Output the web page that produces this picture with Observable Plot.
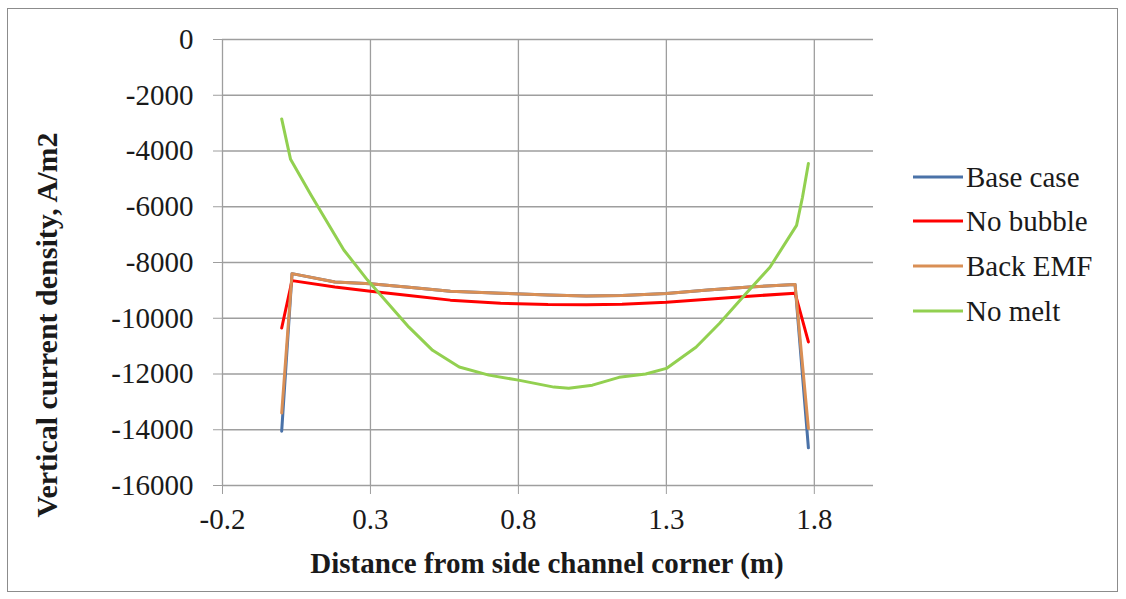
<!DOCTYPE html>
<html>
<head>
<meta charset="utf-8">
<script src="https://cdn.jsdelivr.net/npm/d3@7"></script>
<script src="https://cdn.jsdelivr.net/npm/@observablehq/plot@0.6"></script>
<style>
  body { margin: 0; background: #fff; }
  #wrap { position: relative; width: 1126px; height: 599px; }
  #wrap svg { position: absolute; left: 0; top: 0; }
  #wrap svg text { font-family: "Liberation Serif", "Times New Roman", serif; }
  #frame { position: absolute; left: 7px; top: 8px; width: 1111px; height: 584px;
           border: 1.5px solid #8c8c8c; box-sizing: border-box; pointer-events: none; }
</style>
</head>
<body>
<div id="wrap"></div>
<script>
// ---- data ----
const seriesNames = ["Base case", "No bubble", "Back EMF", "No melt"];
const seriesColors = ["#4a72a8", "#ff0000", "#d98f55", "#92d050"];

const xTicks = [-0.2, 0.3, 0.8, 1.3, 1.8];
const yTicks = [0, -2000, -4000, -6000, -8000, -10000, -12000, -14000, -16000];

const xCommon = [0.0, 0.035, 0.18, 0.3, 0.43, 0.57, 0.74, 0.9, 1.03, 1.15, 1.3, 1.44, 1.58, 1.735, 1.78];
const baseCase = [-14050, -8400, -8700, -8760, -8890, -9030, -9100, -9170, -9200, -9180, -9110, -8990, -8880, -8790, -14650];
const noBubble = [-10350, -8650, -8880, -9030, -9180, -9350, -9460, -9510, -9520, -9500, -9430, -9320, -9210, -9100, -10850];
const backEMF  = [-13400, -8400, -8700, -8760, -8890, -9030, -9100, -9170, -9200, -9180, -9110, -8990, -8880, -8790, -13950];

const xNoMelt = [0.0, 0.03, 0.1, 0.21, 0.29, 0.43, 0.51, 0.6, 0.7, 0.8, 0.92, 0.97, 1.05, 1.14, 1.23, 1.3, 1.4, 1.48, 1.57, 1.65, 1.74, 1.76, 1.78];
const noMelt  = [-2850, -4300, -5600, -7550, -8630, -10320, -11150, -11750, -12040, -12220, -12470, -12510, -12400, -12120, -12000, -11800, -11040, -10180, -9100, -8170, -6670, -5660, -4450];

// ---- table ----
const rows = [];
[[baseCase, xCommon], [noBubble, xCommon], [backEMF, xCommon], [noMelt, xNoMelt]].forEach(([ys, xs], i) => {
  ys.forEach((y, j) => rows.push({ series: seriesNames[i], x: xs[j], y }));
});

const gridColor = "#9e9e9e";
const textColor = "#1a1a1a";
const fontFam = "Liberation Serif, Times New Roman, serif";

const plot = Plot.plot({
  width: 1126,
  height: 599,
  marginLeft: 222,
  marginRight: 253,
  marginTop: 39,
  marginBottom: 114,
  style: { fontFamily: fontFam, fontSize: "29px", color: textColor, background: "transparent" },
  x: { domain: [-0.2, 2.0], label: null },
  y: { domain: [-16000, 0], label: null },
  color: { domain: seriesNames, range: seriesColors },
  marks: [
    Plot.gridX(xTicks, { stroke: gridColor, strokeOpacity: 1, strokeWidth: 1.3 }),
    Plot.gridY(yTicks, { stroke: gridColor, strokeOpacity: 1, strokeWidth: 1.3 }),
    Plot.axisY({ ticks: yTicks, tickSize: 9, tickPadding: 20, tickFormat: d => String(d), stroke: gridColor, fill: textColor, label: null }),
    Plot.axisX({ ticks: xTicks, tickSize: 9, tickPadding: 14, tickFormat: d => d.toFixed(1), stroke: gridColor, fill: textColor, label: null }),
    Plot.line(rows, { x: "x", y: "y", z: "series", stroke: "series", strokeWidth: 3, strokeLinejoin: "round" })
  ]
});

const wrap = document.getElementById("wrap");
wrap.appendChild(plot);
const frame = document.createElement("div");
frame.id = "frame";
wrap.appendChild(frame);

const svg = d3.select(plot);

// axis titles
svg.append("text")
  .attr("x", 547).attr("y", 563)
  .attr("text-anchor", "middle").attr("dominant-baseline", "central")
  .attr("font-size", 29).attr("font-weight", "bold")
  .attr("fill", textColor)
  .text("Distance from side channel corner (m)");

svg.append("text")
  .attr("transform", "translate(46,325) rotate(-90)")
  .attr("text-anchor", "middle").attr("dominant-baseline", "central")
  .attr("font-size", 30).attr("font-weight", "bold")
  .attr("fill", textColor)
  .text("Vertical current density, A/m2");

// legend
const legendY = [177, 221, 266, 311];
seriesNames.forEach((name, i) => {
  const g = svg.append("g");
  g.append("line").attr("x1", 913).attr("x2", 963).attr("y1", legendY[i]).attr("y2", legendY[i])
    .attr("stroke", seriesColors[i]).attr("stroke-width", 3);
  g.append("text").attr("x", 966).attr("y", legendY[i])
    .attr("text-anchor", "start").attr("dominant-baseline", "central")
    .attr("font-size", 29).attr("fill", textColor)
    .text(name);
});
</script>
</body>
</html>
